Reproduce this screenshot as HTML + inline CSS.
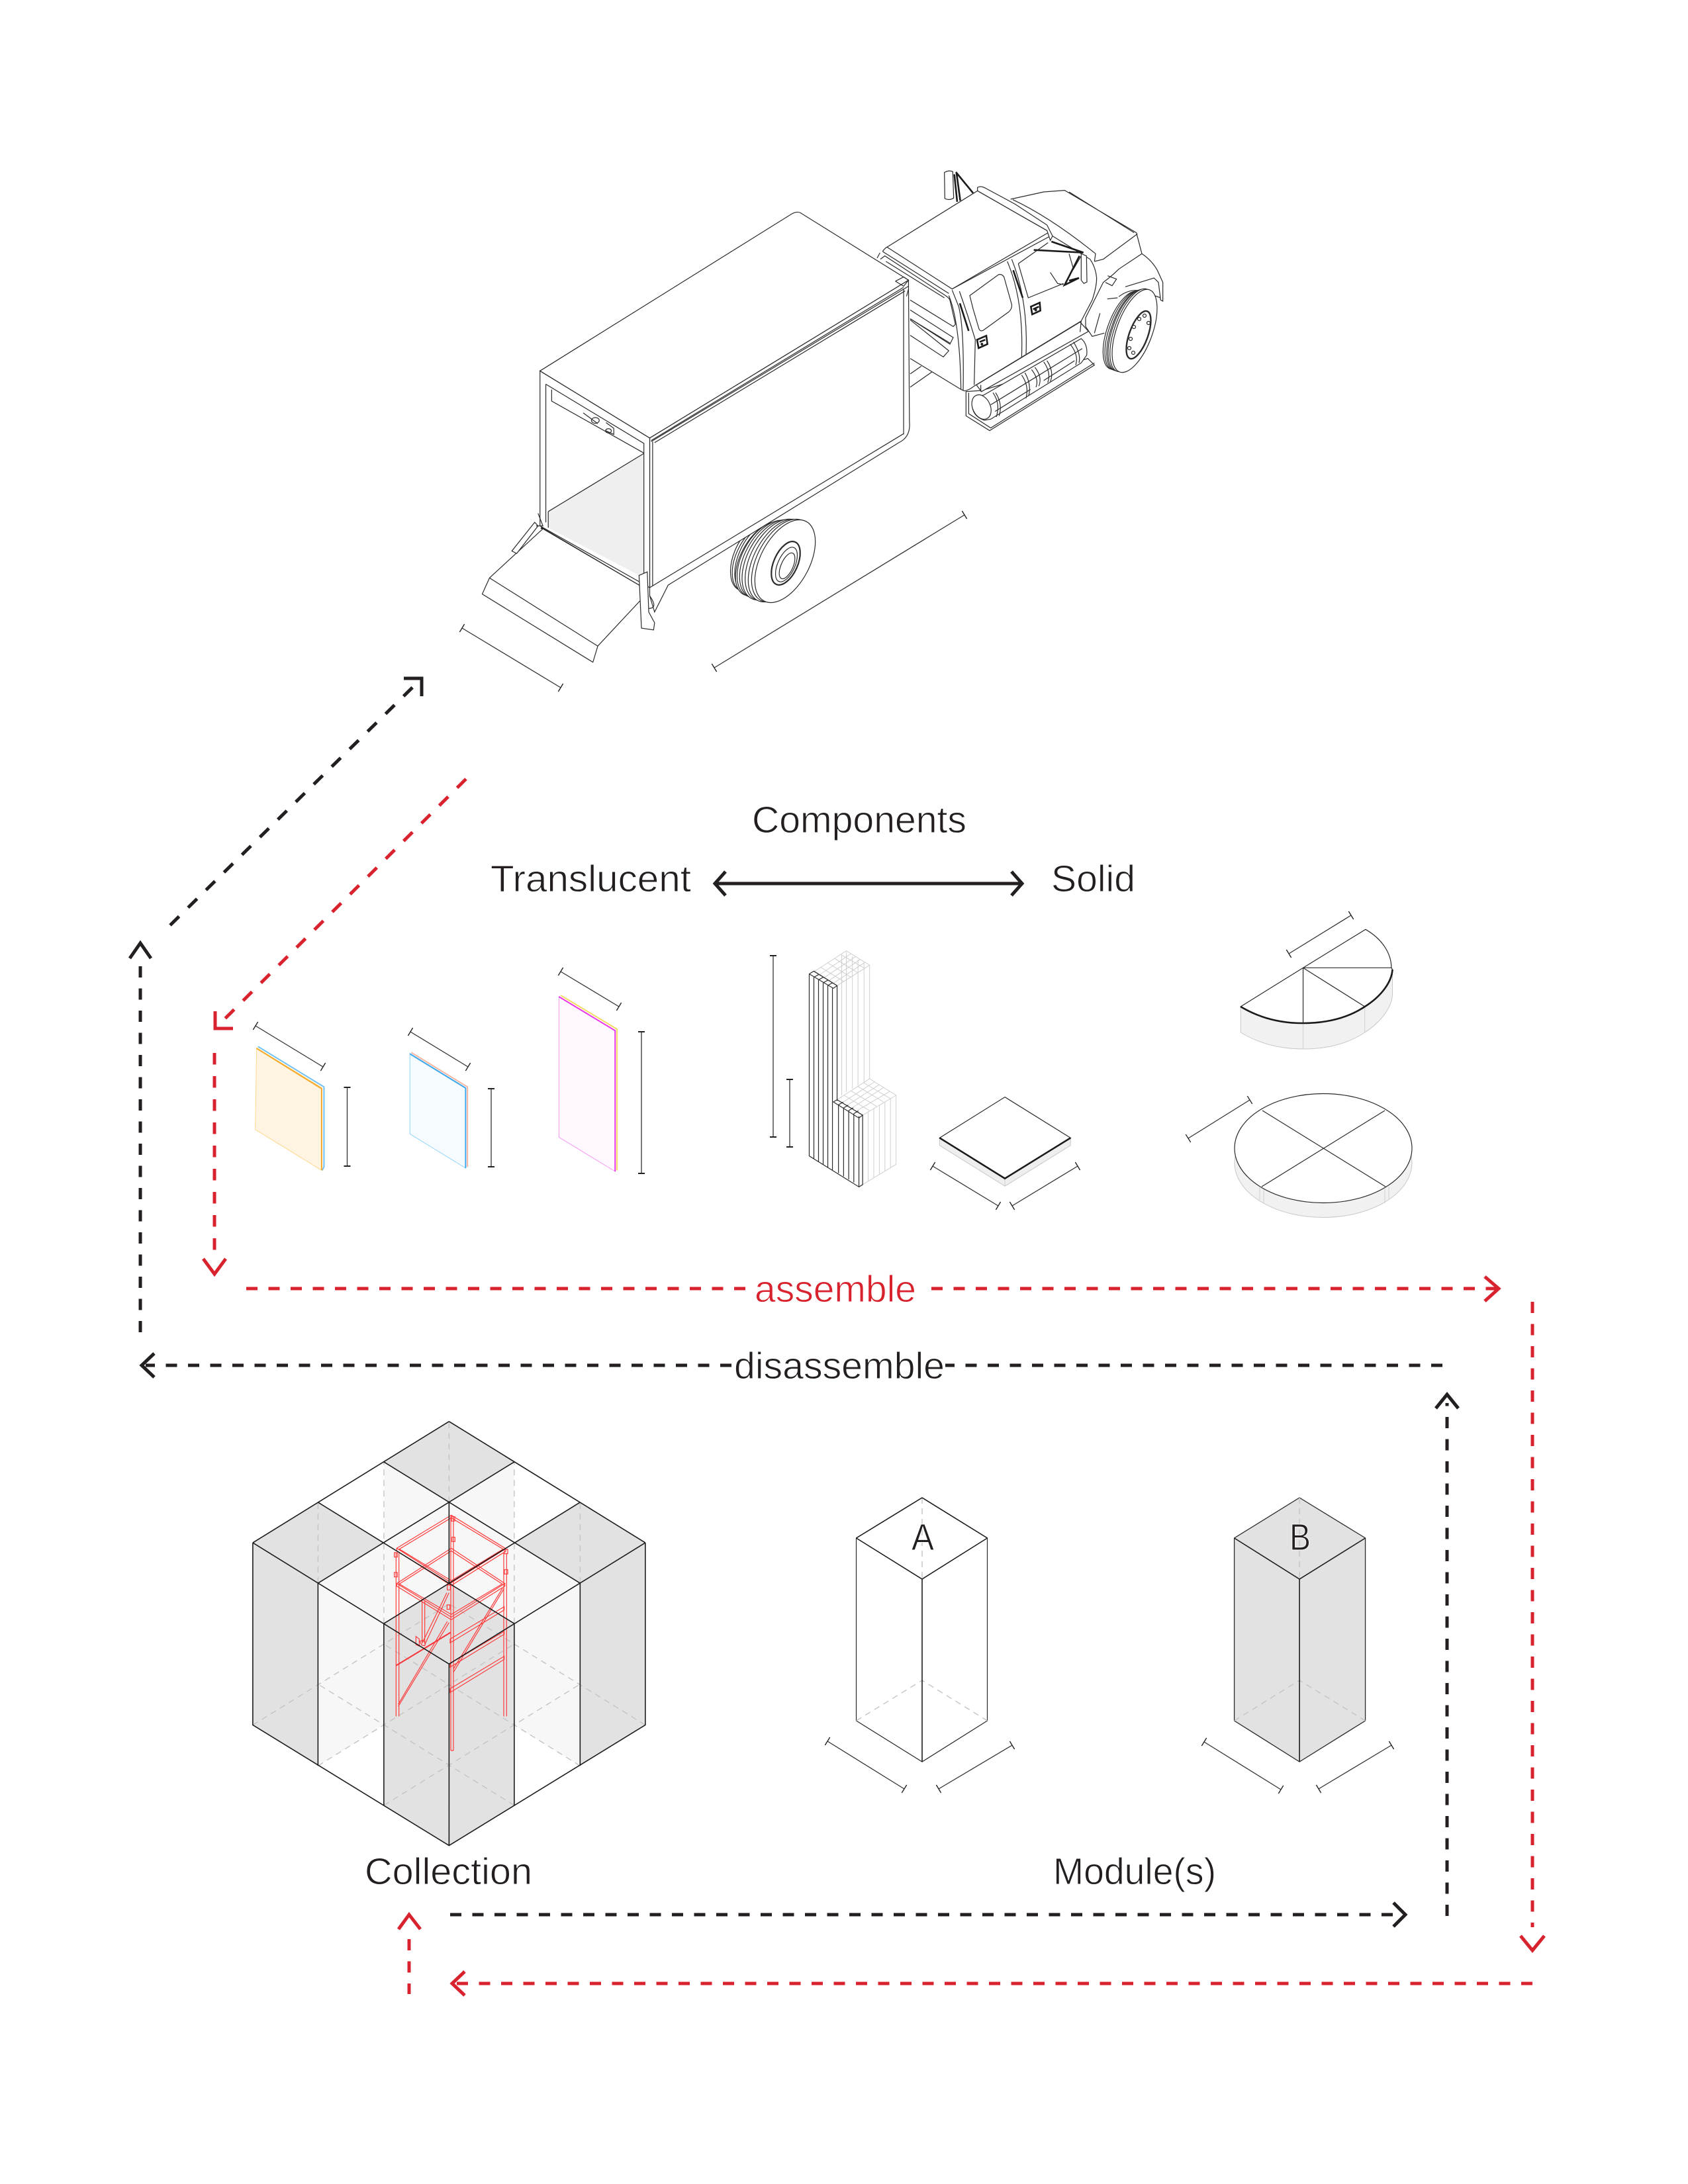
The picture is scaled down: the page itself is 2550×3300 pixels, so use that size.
<!DOCTYPE html>
<html><head><meta charset="utf-8"><title>Collection diagram</title>
<style>
html,body{margin:0;padding:0;background:#fff}
svg{display:block}
svg *{vector-effect:non-scaling-stroke}
text{font-family:"Liberation Sans",sans-serif;font-size:57px;fill:#231f20;stroke:#fff;stroke-width:.9px}
.k{fill:none;stroke:#2a2a2a;stroke-width:1.2}
.w{fill:#fff;stroke:#2a2a2a;stroke-width:1.2}
.h{fill:none;stroke:#1a1a1a;stroke-width:2.6}
.d{fill:none;stroke:#333;stroke-width:1.3;marker-start:url(#t);marker-end:url(#t)}
.v{fill:none;stroke:#333;stroke-width:1.3;marker-start:url(#t2);marker-end:url(#t2)}
.c{fill:none;stroke:#1c1c1c;stroke-width:1.6}
.g{fill:none;stroke:#c4c4c4;stroke-width:1.4;stroke-dasharray:9 7}
.r{fill:none;stroke:#ff3a3a;stroke-width:1.2}
.rb{fill:none;stroke:#f8343a;stroke-width:2}
.lg{fill:none;stroke:#cfcfcf;stroke-width:1}
.bd{fill:none;stroke:#231f20;stroke-width:5}
.rd{fill:none;stroke:#d8232f;stroke-width:5}
</style></head>
<body>
<svg xmlns="http://www.w3.org/2000/svg" width="2550" height="3300" viewBox="0 0 2550 3300">
<defs>
<marker id="t" markerUnits="userSpaceOnUse" markerWidth="4" markerHeight="18" refX="2" refY="9" orient="auto"><path d="M2,2V16" stroke="#222" stroke-width="1.4" fill="none"/></marker>
<marker id="t2" markerUnits="userSpaceOnUse" markerWidth="4" markerHeight="12" refX="2" refY="6" orient="auto"><path d="M2,1V11" stroke="#222" stroke-width="2" fill="none"/></marker>
</defs>
<rect width="2550" height="3300" fill="#fff"/>

<!-- CAB (zoom-2 coordinates) -->
<g transform="translate(1300,220) scale(.33333)">
  <path fill="#fff" d="M680,243L830,210L925,203L1250,395L1275,490L1060,525L850,385Z"/>
  <path class="k" d="M680,243L830,210L925,203L1250,395L1275,490M945,210L1240,395M1060,525L1100,515L1255,400M690,245Q850,320 1040,470L1065,490L1060,525"/>
  <path class="k" d="M225,1035L275,1000M225,1095L325,1025"/>
  <path fill="#fff" d="M225,700L415,650L850,395L870,410L1040,515Q1065,550 1070,600Q1070,640 1050,700L1000,795L515,1090Q490,1110 470,1112L455,1105L225,965Z"/>
  <path class="k" d="M870,410L1040,515Q1065,550 1070,600Q1070,640 1050,700L1000,795L515,1090Q490,1110 470,1112L455,1105L225,965"/>
  <path class="w" d="M478,1115L478,1225L585,1292L1060,995L1030,965L550,1110Z"/>
  <path class="k" d="M490,1120L490,1215L590,1280L1060,985"/>
  <path class="w" d="M560,1130L1000,875Q1030,900 1025,950L1000,985L590,1240L560,1245Q505,1225 505,1170Q510,1140 560,1130Z"/>
  <ellipse class="w" cx="548" cy="1185" rx="40" ry="58" transform="rotate(-25 548 1185)"/>
  <path class="k" d="M600,1120Q635,1170 615,1230M612,1120Q645,1170 628,1225M730,1040Q765,1090 750,1145M745,1030Q775,1080 762,1135M775,1015Q810,1060 795,1095M790,1005Q825,1050 808,1090M830,980Q865,1030 848,1075M845,975Q878,1025 860,1070M950,900Q990,950 975,995M965,890Q1000,945 990,985M590,1175L1005,920M610,1205L770,1105M830,1065L970,975"/>
  <path class="w" d="M525,1085L995,800L1033,842L548,1115Z"/>
  <path class="k" d="M545,1085L545,1115M1000,795L995,845"/>
  <path class="w" d="M120,460L530,205L845,385L860,410L415,650Z"/>
  <path class="k" d="M100,480Q110,465 120,460M100,480L400,670M75,510L88,486M90,515L110,500L385,680Q400,690 405,700L430,810L420,820L225,700M115,525L380,690"/>
  <path class="k" d="M225,745L420,870L405,900L225,785M225,790L400,930L375,958L225,860"/>
  <path class="k" stroke-width="2" d="M225,785L405,895"/>
  <path class="k" d="M415,655L445,730Q470,830 465,1110M448,660Q490,780 520,880L515,1085M400,680Q450,800 455,1105"/>
  <path class="k" d="M495,680L625,585Q640,580 650,595L685,720Q688,740 670,755L555,838Q540,845 535,825L510,740Z"/>
  <path class="k" d="M665,525Q740,700 730,960M685,515Q760,700 750,945M415,650L850,395"/>
  <path class="k" d="M715,535L760,690L920,625M715,535L850,440M860,575L893,625L920,630M945,490L965,560L1000,500"/>
  <path class="h" d="M450,715L490,840M692,565L735,690" stroke-width="2.4"/>
  <path class="h" d="M528,880L570,862L575,900L535,918ZM772,730L812,712L815,748L778,765ZM540,890L565,880M782,742L808,730" stroke-width="1.5"/>
  <circle cx="550" cy="900" r="6" fill="#222"/><circle cx="794" cy="745" r="6" fill="#222"/>
  <path class="w" d="M530,190Q545,180 570,195L700,265L845,360L870,410L860,430L845,385L530,205Z"/>
  <path class="k" d="M1100,620Q1140,590 1170,560L1275,490Q1320,520 1345,565L1370,620L1370,705L1360,700L1350,620L1330,600L1200,640M1100,620L1020,780L1020,820L1050,865L1105,850M1120,590L1160,605L1140,635L1110,620M1170,685Q1230,640 1290,665L1360,690M1118,695L1165,690M1085,760L1060,850"/>
  <!-- left mirror -->
  <path class="w" d="M380,122Q400,110 418,118L422,238Q400,250 382,240Z"/>
  <path class="h" d="M432,120L510,215M425,130L438,255M435,125L452,250" stroke-width="2"/>
  <!-- right mirror arms -->
  <path class="h" d="M785,473L1010,485M865,435L1010,485M992,500L925,632L990,600L945,612" stroke-width="3"/>
  <path class="w" d="M1000,490L1024,500L1026,618L1012,625L1000,610Z"/>
</g>

<!-- CAB WHEEL -->
<g fill="#fff" stroke="#2a2a2a" stroke-width="1.2">
  <ellipse cx="1698" cy="499" rx="25" ry="62" transform="rotate(20 1698 499)"/>
  <ellipse cx="1701" cy="499" rx="25" ry="63" transform="rotate(20 1701 499)"/>
  <ellipse cx="1704" cy="499" rx="25" ry="64" transform="rotate(20 1704 499)"/>
  <ellipse cx="1707" cy="499" rx="26" ry="65" transform="rotate(20 1707 499)"/>
  <ellipse cx="1710" cy="499" rx="26" ry="66" transform="rotate(20 1710 499)"/>
  <ellipse cx="1714" cy="500" rx="27" ry="66" transform="rotate(20 1714 500)"/>
  <ellipse cx="1720" cy="506" rx="14" ry="38" transform="rotate(20 1720 506)" stroke-width="2.4"/>
  <circle cx="1729" cy="477" r="2.5"/><circle cx="1735" cy="488" r="2.5"/><circle cx="1721" cy="482" r="2.5"/><circle cx="1713" cy="494" r="2.5"/><circle cx="1708" cy="512" r="2.5"/><circle cx="1706" cy="526" r="2.5"/><circle cx="1712" cy="533" r="2.5"/>
</g>

<!-- REAR WHEEL -->
<g fill="#fff" stroke="#2a2a2a" stroke-width="1.2" transform="translate(-4,-3)">
  <ellipse cx="1140" cy="846" rx="28" ry="52" transform="rotate(22 1140 846)"/>
  <ellipse cx="1145" cy="846" rx="29" ry="54" transform="rotate(25 1145 846)"/>
  <ellipse cx="1150" cy="846" rx="30" ry="56" transform="rotate(25 1150 846)"/>
  <ellipse cx="1155" cy="848" rx="32" ry="60" transform="rotate(28 1155 848)"/>
  <ellipse cx="1160" cy="848" rx="35" ry="62" transform="rotate(28 1160 848)"/>
  <ellipse cx="1165" cy="848" rx="36" ry="64" transform="rotate(28 1165 848)"/>
  <ellipse cx="1170" cy="849" rx="37" ry="66" transform="rotate(28 1170 849)"/>
  <ellipse cx="1175" cy="849" rx="37" ry="67" transform="rotate(28 1175 849)"/>
  <ellipse cx="1180" cy="850" rx="37" ry="68" transform="rotate(28 1180 850)"/>
  <ellipse cx="1185" cy="850" rx="37" ry="68" transform="rotate(28 1185 850)"/>
  <ellipse cx="1190" cy="851" rx="37" ry="68" transform="rotate(28 1190 851)"/>
  <ellipse cx="1191" cy="854" rx="18" ry="35" transform="rotate(24 1191 854)" stroke-width="2.2"/>
  <ellipse cx="1192" cy="856" rx="13" ry="28" transform="rotate(24 1192 856)"/>
  <ellipse cx="1193" cy="858" rx="9" ry="21" transform="rotate(24 1193 858)"/>
</g>

<!-- BOX (zoom-1 coordinates, corrected scale) -->
<g transform="translate(650,220) scale(.7334,.5421)">
  <path class="w" d="M452,815L985,375L987,770Q990,812 965,828L490,1225L462,1300L452,1255L452,1232Z"/>
  <path class="w" d="M226,628L452,815L452,1232L226,1060Z"/>
  <path d="M243,1020L440,858L440,1205L243,1065Z" fill="#efefef"/>
  <path class="w" d="M226,628L745,190Q755,183 762,187L985,375L452,815Z"/>
  <path class="k" d="M238,665L238,1050M238,665L440,830L440,1205M250,680L250,712L440,857M243,1020L440,858M243,1020L243,1065"/>
  <path class="k" d="M315,745L345,775M362,772L378,788L378,805L362,795"/>
  <circle class="k" cx="340" cy="766" r="8"/><circle class="k" cx="367" cy="795" r="6"/>
  <path class="k" d="M455,825L985,392M462,828L978,405M975,400L975,805M975,803L452,1232M458,825L458,1228"/>
  <path class="k" d="M455,822L975,395M958,378L975,366L985,375L975,392L958,378M985,400L981,420"/>
  <path class="h" d="M228,1065L432,1228" stroke-width="1.8"/>
  <!-- gate -->
  <path class="w" d="M232,1068L430,1225L445,1250L345,1395L335,1440L107,1250L122,1205Z"/>
  <path class="k" d="M122,1205L345,1395"/>
  <path class="w" d="M215,1050L168,1130L178,1137L222,1060Z"/>
  <path class="k" d="M222,1025L232,1060L218,1060"/>
  <path class="w" d="M430,1198L447,1188L450,1300L462,1330L460,1350L435,1345Z"/>
  <path class="k" d="M452,1255Q470,1290 450,1290"/>
</g>

<!-- COMPONENTS (zoom-3 coordinates) -->
<g transform="translate(300,1380) scale(.7015,.33333)">
  <path d="M125,610L265,790L265,1165L122,980Z" fill="#fff4e2" stroke="#ffd890" stroke-width="1"/>
  <path d="M128,604L270,787L270,1150L266,1165" fill="none" stroke="#6fc0f5" stroke-width="2"/>
  <path d="M125,612L265,795L265,1165" fill="none" stroke="#f7a928" stroke-width="2"/>

  <path d="M455,635L575,790L575,1155L455,1000Z" fill="#f6fbff" stroke="#8fd3fb" stroke-width="1"/>
  <path d="M458,631L579,787L579,1150" fill="none" stroke="#f6b6a0" stroke-width="2"/>
  <path d="M455,637L575,792L575,1155" fill="none" stroke="#3ea8ee" stroke-width="2"/>

  <path d="M776,378L897,530L897,1170L776,1015Z" fill="#fff9ff" stroke="#f59af5" stroke-width="1"/>
  <path d="M780,372L901,525L901,1165" fill="none" stroke="#f3dc60" stroke-width="2"/>
  <path d="M776,378L897,532L897,1170" fill="none" stroke="#e836e8" stroke-width="2"/>

  <!-- tall block -->
  <path class="lg" d="M1325,265L1395,170L1445,235L1375,328ZM1335,282L1405,183M1345,295L1415,196M1355,308L1425,209M1365,320L1435,222M1340,245L1390,310M1355,225L1405,290M1370,205L1420,270M1383,187L1435,250"/>
  <path class="lg" d="M1445,235V750M1433,222V765M1420,210V780M1408,195V795M1395,175V810M1385,190V825"/>
  <path class="lg" d="M1375,845L1445,750L1502,825L1430,915ZM1385,860L1455,765M1395,872L1465,778M1405,885L1475,790M1415,898L1488,808M1390,825L1445,895M1405,805L1460,875M1420,785L1475,855M1432,768L1490,840"/>
  <path class="lg" d="M1502,825V1138L1422,1240M1490,840V1153M1478,855V1168M1466,870V1184M1454,885V1200M1442,900V1216"/>
  <path class="k" d="M1315,275L1325,262L1375,328L1367,340L1315,275M1315,275V1100L1422,1240V920M1325,290V1113M1335,302V1126M1345,315V1139M1355,327V1152M1365,340V1166M1375,328V850M1367,855L1375,845L1430,915L1422,928ZM1378,868V1178M1389,882V1192M1400,894V1206M1411,908V1220M1430,915V1230L1422,1240"/>
  <path class="k" d="M1325,290L1335,278M1335,302L1345,290M1345,315L1355,303M1355,327L1365,315M1378,868L1388,856M1389,882L1399,870M1400,894L1410,882M1411,908L1421,896"/>
</g>

<!-- SOLID PIECES (zoom-4 coordinates) -->
<g transform="translate(1350,1340) scale(.5421,.33333)">
  <path d="M128,1138L310,1322L493,1138L493,1172L310,1357L128,1172Z" fill="#eeeeee" stroke="#c8c8c8" stroke-width="1"/>
  <path class="lg" d="M310,1322V1357"/>
  <path class="w" d="M310,953L493,1138L310,1322L128,1138Z"/>
  <path class="h" d="M128,1138L310,1322L493,1138" stroke-width="2"/>

  <path d="M967,543C1020,595 1080,618 1141,618C1205,618 1265,595 1313,543C1360,495 1388,430 1390,375L1390,490C1388,545 1360,610 1313,660C1265,712 1205,735 1141,735C1080,735 1020,712 967,660Z" fill="#f1f1f1" stroke="#c8c8c8" stroke-width="1"/>
  <path class="lg" d="M1141,618V735M1313,543V660"/>
  <path class="w" d="M1141,367L1315,193C1360,235 1387,300 1387,367L1390,375C1388,430 1360,495 1313,543C1265,595 1205,618 1141,618C1080,618 1020,595 967,543Z"/>
  <path class="k" d="M1141,367L1387,367M1141,367L1313,543M1141,367V618" stroke-width="1.6"/>
  <path class="h" d="M967,543C1020,595 1080,618 1141,618C1205,618 1265,595 1313,543C1360,495 1388,430 1390,375" stroke-width="2"/>
</g>

<!-- CIRCLE -->
<g>
  <ellipse cx="1999" cy="1757" rx="134" ry="82.5" fill="#f1f1f1" stroke="#c8c8c8" stroke-width="1"/>
  <ellipse cx="1999" cy="1735" rx="134" ry="82.5" fill="#fff" stroke="#2a2a2a" stroke-width="1.2"/>
  <path class="k" d="M1907,1678L2093,1793M2092,1678L1906,1793"/>
  <path class="lg" d="M1903,1793V1813M1909,1797V1818M2092,1797V1818M2098,1793V1813"/>
</g>

<!-- COLLECTION CUBE fills -->
<g transform="translate(360,2110) scale(.9949) translate(-360,-2110)">
  <path d="M680,2148L779,2209.4L680,2270.8L581,2209.4Z" fill="#e2e2e2"/>
  <path d="M581,2209.4L680,2270.8L581,2332.2Z" fill="#f7f7f7"/>
  <path d="M779,2209.4L680,2270.8L779,2332.2Z" fill="#f7f7f7"/>
  <path d="M680,2270.8L779,2332.2L680,2393.6L581,2332.2Z" fill="#f7f7f7"/>
  <path d="M581,2332.2L680,2393.6L581,2455L481,2393.6Z" fill="#f7f7f7"/>
  <path d="M779,2332.2L879,2393.6L779,2455L680,2393.6Z" fill="#f7f7f7"/>
  <path d="M481,2270.8L581,2332.2L481,2393.6L382,2332.2Z" fill="#e2e2e2"/>
  <path d="M382,2332.2L481,2393.6V2671L382,2609Z" fill="#e2e2e2"/>
  <path d="M879,2270.8L978,2332.2L879,2393.6L779,2332.2Z" fill="#e2e2e2"/>
  <path d="M978,2332.2L879,2393.6V2671L978,2609Z" fill="#e2e2e2"/>
  <path d="M680,2393.6L779,2455V2731L680,2792L581,2731V2455Z" fill="#e2e2e2"/>
  <path d="M481,2393.6L581,2455V2609L481,2671Z" fill="#f7f7f7"/>
  <path d="M879,2393.6L779,2455V2609L879,2671Z" fill="#f7f7f7"/>
  <path d="M581,2455L581,2209.4M481,2393.6V2270.8M680,2270.8V2148M779,2455V2209.4M879,2393.6V2270.8" class="g"/>
  <path class="g" d="M382,2609L680,2425M481,2671L779,2486M581,2731L879,2547M978,2609L680,2425M879,2671L581,2486M779,2731L481,2547"/>
</g>

<!-- red frame (zoom-6 coordinates) -->
<g transform="translate(560,2250) scale(.33333)">
  <path class="r" d="M365,118L118,268L365,425L612,270Z M365,130L130,272L365,415L600,272Z M118,268L118,280L365,437L612,282L612,270M365,118V130"/>
  <path class="r" d="M365,268L118,428L365,580L608,428Z M365,280L130,430L365,568L596,430ZM118,428V440L365,592L608,440V428"/>
  <path class="r" d="M115,290V1030M128,290V1030M603,290V1030M616,290V1030M363,125V1185M375,125V1185M363,1185H375"/>
  <path class="r" d="M233,505V700M245,505V700M355,470L245,705M345,470L235,695M355,605L125,985M347,600L125,975"/>
  <path class="r" d="M605,450L375,830M597,450L375,815"/>
  <path class="r" d="M360,680L605,533L605,548L360,697ZM360,790L605,645L605,658L360,807ZM360,905L605,758L605,772L360,922Z"/>
  <path class="rb" d="M115,800L362,650"/>
  <path class="r" d="M205,668V705L220,712V680ZM222,690L238,685L248,700L245,710L232,708Z"/>
  <path class="r" d="M107,288h14v20h-14zM107,378h14v20h-14zM366,125h15v20h-15zM368,218h14v20h-14zM606,273h15v20h-15zM606,365h15v20h-15zM346,525h13v20h-13zM347,435h14v22h-14z"/>
</g>

<!-- COLLECTION CUBE lines -->
<g transform="translate(360,2110) scale(.9949) translate(-360,-2110)">
  <path class="c" d="M680,2148L978,2332.2M581,2209.4L879,2393.6M481,2270.8L779,2455M382,2332.2L680,2516.4"/>
  <path class="c" d="M680,2148L382,2332.2M779,2209.4L481,2393.6M879,2270.8L581,2455M978,2332.2L680,2516.4"/>
  <path class="c" d="M382,2332.2V2609L680,2792L978,2609V2332.2M481,2393.6V2671M581,2455V2731M680,2516.4V2792M779,2455V2731M879,2393.6V2671M680,2270.8V2393.6"/>
</g>

<!-- MODULE A -->
<g transform="translate(1200,0) scale(.9949,1) translate(-1200,0)">
  <path class="w" d="M1394,2263L1493,2324V2600L1394,2662L1294,2600V2324Z"/>
  <path class="g" d="M1394,2263V2386M1294,2600L1394,2539L1493,2600"/>
  <path class="c" d="M1294,2324L1394,2386L1493,2324M1394,2386V2662M1394,2263L1294,2324M1394,2263L1493,2324"/>
</g>
<text x="1377" y="2342" textLength="34" lengthAdjust="spacingAndGlyphs">A</text>
<!-- MODULE B -->
<g transform="translate(1200,0) scale(.9949,1) translate(-1200,0)">
  <path d="M1967,2263L2067,2324V2600L1967,2662L1868,2600V2324Z" fill="#e2e2e2" stroke="#2a2a2a" stroke-width="1.3"/>
  <path class="g" d="M1967,2263V2386M1868,2600L1967,2539L2067,2600"/>
  <path class="c" d="M1868,2324L1967,2386L2067,2324M1967,2386V2662"/>
</g>
<text x="1948" y="2342" textLength="32" lengthAdjust="spacingAndGlyphs">B</text>

<!-- DIMENSIONS -->
<path class="d" d="M698,949L847,1039"/>
<path class="d" d="M1079,1009L1457,778"/>
<path class="d" d="M386,1550L488,1612"/>
<path class="d" d="M620,1559L707,1612"/>
<path class="d" d="M847,1468L935,1521"/>
<path class="v" d="M524.5,1643V1762"/>
<path class="v" d="M742,1645V1763"/>
<path class="v" d="M969,1559V1773"/>
<path class="v" d="M1168,1444V1718"/>
<path class="v" d="M1193,1631V1733"/>
<path class="d" d="M1409,1762L1508,1822"/>
<path class="d" d="M1628,1762L1529,1822"/>
<path class="d" d="M1947,1441L2041,1383"/>
<path class="d" d="M1795,1720L1888,1662"/>
<path class="d" d="M1250,2631L1366,2703"/>
<path class="d" d="M1529,2637L1418,2703"/>
<path class="d" d="M1819,2632L1935,2704"/>
<path class="d" d="M2102,2637L1992,2703"/>

<!-- CONNECTORS -->
<path class="bd" stroke-dasharray="19 19" d="M257,1398L632,1030"/>
<path class="bd" d="M610,1025H637V1052"/>
<path class="rd" stroke-dasharray="19 19" d="M704,1177L330,1549"/>
<path class="rd" d="M325,1528V1554H352"/>
<path class="rd" stroke-dasharray="17.5 17.5" d="M324,1591V1890"/>
<path class="rd" stroke-width="4" d="M307,1902L324,1925L341,1902"/>
<path class="rd" stroke-dasharray="17 16.5" d="M372,1947H1126"/>
<path class="rd" stroke-dasharray="17 16.5" d="M1407,1947H2261"/>
<path class="rd" stroke-width="4" d="M2243,1929L2264,1947L2243,1966"/>
<path class="rd" stroke-dasharray="17 16.5" d="M2315,1967V2912"/>
<path class="rd" stroke-width="4" d="M2297,2925L2315,2947L2333,2925"/>
<path class="rd" stroke-dasharray="17 16.5" d="M2315,2997H689"/>
<path class="rd" stroke-width="4" d="M702,2979L683,2997L702,3015"/>
<path class="rd" stroke-dasharray="17 16.5" d="M618,2930V3013"/>
<path class="rd" stroke-width="4" d="M602,2915L618,2893L635,2915"/>

<path class="bd" stroke-dasharray="17 16.5" d="M212,2013V1445"/>
<path class="bd" stroke-width="4" d="M196,1448L212,1425L228,1448"/>
<path class="bd" stroke-dasharray="17 16.5" d="M2179,2063H1428"/>
<path class="bd" stroke-dasharray="17 16.5" d="M1105,2063H220"/>
<path class="bd" stroke-width="4" d="M233,2045L214,2063L233,2081"/>
<path class="bd" stroke-dasharray="17 16.5" d="M2186,2895V2120"/>
<path class="bd" stroke-width="4" d="M2169,2128L2186,2107L2203,2128"/>
<path class="bd" stroke-dasharray="17 16.5" d="M680,2893H2117"/>
<path class="bd" stroke-width="4" d="M2105,2875L2123,2893L2105,2911"/>
<path class="bd" stroke-width="4" d="M1083,1335H1541M1096,1317L1080,1335L1096,1353M1528,1317L1544,1335L1528,1353"/>

<!-- LABELS -->
<text x="1136" y="1258" textLength="324" lengthAdjust="spacingAndGlyphs">Components</text>
<text x="741" y="1347" textLength="303" lengthAdjust="spacingAndGlyphs">Translucent</text>
<text x="1588" y="1347" textLength="127" lengthAdjust="spacingAndGlyphs">Solid</text>
<text x="1140" y="1967" textLength="244" lengthAdjust="spacingAndGlyphs" style="fill:#d8232f">assemble</text>
<text x="1109" y="2083" textLength="318" lengthAdjust="spacingAndGlyphs">disassemble</text>
<text x="551" y="2847" textLength="253" lengthAdjust="spacingAndGlyphs">Collection</text>
<text x="1591" y="2847" textLength="246" lengthAdjust="spacingAndGlyphs">Module(s)</text>
</svg>
</body></html>
